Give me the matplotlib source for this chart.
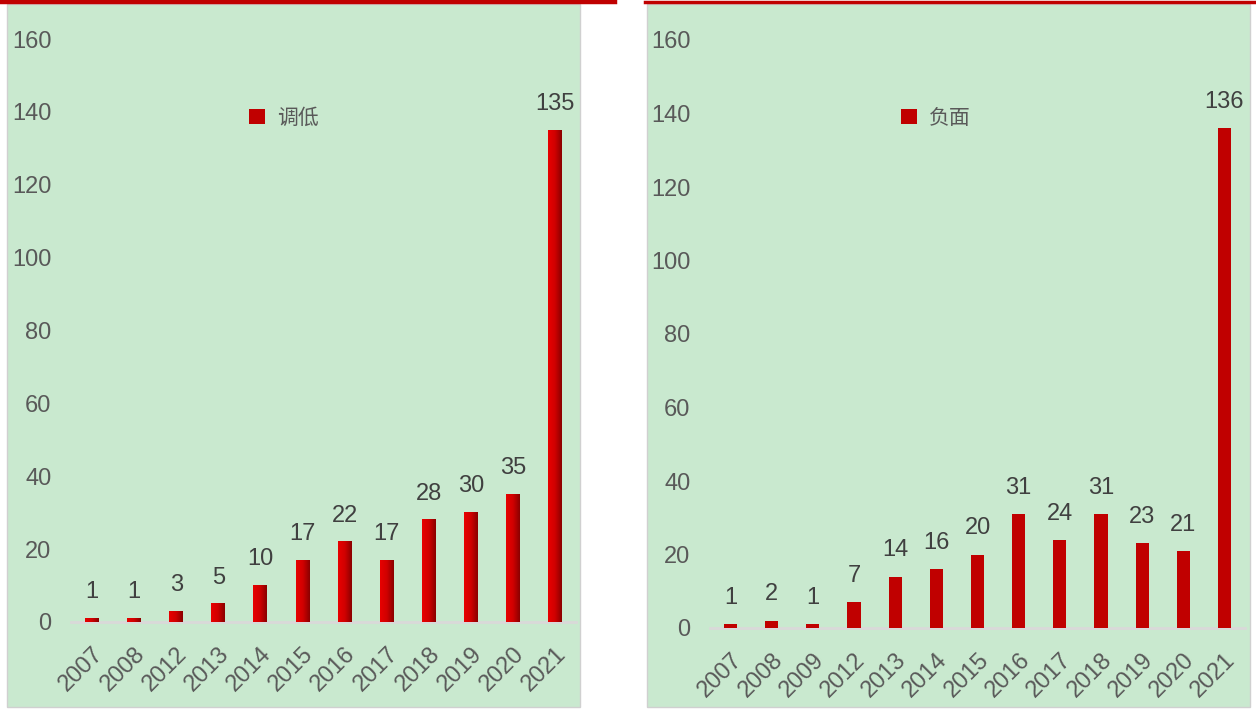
import matplotlib
matplotlib.use("Agg")
import numpy as np
import matplotlib.pyplot as plt
from matplotlib.colors import LinearSegmentedColormap
from matplotlib.patches import Rectangle, Patch
from matplotlib.lines import Line2D

# 调低 (downgrades)
years_down = ["2007", "2008", "2012", "2013", "2014", "2015", "2016",
              "2017", "2018", "2019", "2020", "2021"]
values_down = [1, 1, 3, 5, 10, 17, 22, 17, 28, 30, 35, 135]

# 负面 (negative)
years_neg = ["2007", "2008", "2009", "2012", "2013", "2014", "2015", "2016",
             "2017", "2018", "2019", "2020", "2021"]
values_neg = [1, 2, 1, 7, 14, 16, 20, 31, 24, 31, 23, 21, 136]

yticks = [0, 20, 40, 60, 80, 100, 120, 140, 160]

W, H = 1256, 710
BG = "#C9E9CF"
RED = "#C00000"
TICK_C = "#595959"
LABEL_C = "#404040"
NUM_FONT = ["Liberation Sans Narrow", "Liberation Sans", "DejaVu Sans"]
CJK_FONT = ["Noto Sans CJK SC", "DejaVu Sans"]

fig = plt.figure(figsize=(W / 100, H / 100), dpi=100)
fig.patch.set_facecolor("white")


def px_rect(x0, y0, x1, y1):
    """pixel box (top-left origin) -> figure fraction [l, b, w, h]"""
    return [x0 / W, 1 - y1 / H, (x1 - x0) / W, (y1 - y0) / H]


# green panels with thin gray border
for x0, x1 in [(7, 580), (647, 1250)]:
    l, b, w, h = px_rect(x0, 4, x1, 707)
    fig.patches.append(Rectangle((l, b), w, h, transform=fig.transFigure,
                                 facecolor=BG, edgecolor="#D0D0D0", lw=1, zorder=-5))

# red lines along the top
fig.lines.append(Line2D([0, 615 / W], [1 - 1.5 / H] * 2, transform=fig.transFigure,
                        color=RED, lw=3.2))
fig.lines.append(Line2D([645 / W, 1], [1 - 1.5 / H] * 2, transform=fig.transFigure,
                        color=RED, lw=2.5))

grad = LinearSegmentedColormap.from_list("bar", ["#E80000", "#D00000", "#8A0000"])


def draw_panel(rect, years, values, width, legend_label, legend_xy, gradient):
    ax = fig.add_axes(rect)
    ax.set_facecolor("none")
    x = np.arange(len(years))
    bars = ax.bar(x, values, width=width, color=RED, zorder=3)
    if gradient:
        g = np.linspace(0, 1, 64).reshape(1, -1)
        for b in bars:
            b.set_alpha(0)
            x0, y0 = b.get_x(), b.get_y()
            ax.imshow(g, cmap=grad, aspect="auto", zorder=3,
                      extent=[x0, x0 + b.get_width(), y0, y0 + b.get_height()])
    for xi, v in zip(x, values):
        ax.annotate(str(v), (xi, v), xytext=(0, 11), textcoords="offset points",
                    ha="center", va="bottom", fontsize=17, color=LABEL_C,
                    family=NUM_FONT)
    ax.set_xlim(-0.5, len(years) - 0.5)
    ax.set_ylim(0, 160)
    ax.set_yticks(yticks)
    ax.set_xticks(x)
    ax.set_xticklabels(years, rotation=45, ha="right", rotation_mode="anchor")
    for lab in ax.get_xticklabels() + ax.get_yticklabels():
        lab.set_family(NUM_FONT)
        lab.set_fontsize(17)
        lab.set_color(TICK_C)
    ax.tick_params(axis="both", length=0)
    ax.tick_params(axis="y", pad=14)
    ax.tick_params(axis="x", pad=15)
    for s in ["top", "right", "left"]:
        ax.spines[s].set_visible(False)
    ax.spines["bottom"].set_color("#D9D9D9")
    ax.spines["bottom"].set_linewidth(2)
    ax.spines["bottom"].set_zorder(2)

    handle = Patch(facecolor=RED, edgecolor="none")
    fig.legend([handle], [legend_label], loc="center left",
               bbox_to_anchor=legend_xy, bbox_transform=fig.transFigure,
               frameon=False, borderpad=0, borderaxespad=0,
               handlelength=0.75, handleheight=0.75, handletextpad=0.6,
               prop={"family": CJK_FONT, "size": 15}, labelcolor=TICK_C)
    return ax


draw_panel(px_rect(71, 39, 576, 622), years_down, values_down, 0.33,
           "调低", (249 / W, 1 - 118 / H), True)
draw_panel(px_rect(710, 40, 1245, 628), years_neg, values_neg, 0.32,
           "负面", (901 / W, 1 - 118 / H), False)

fig.savefig("out.png", dpi=100, facecolor=fig.get_facecolor())
